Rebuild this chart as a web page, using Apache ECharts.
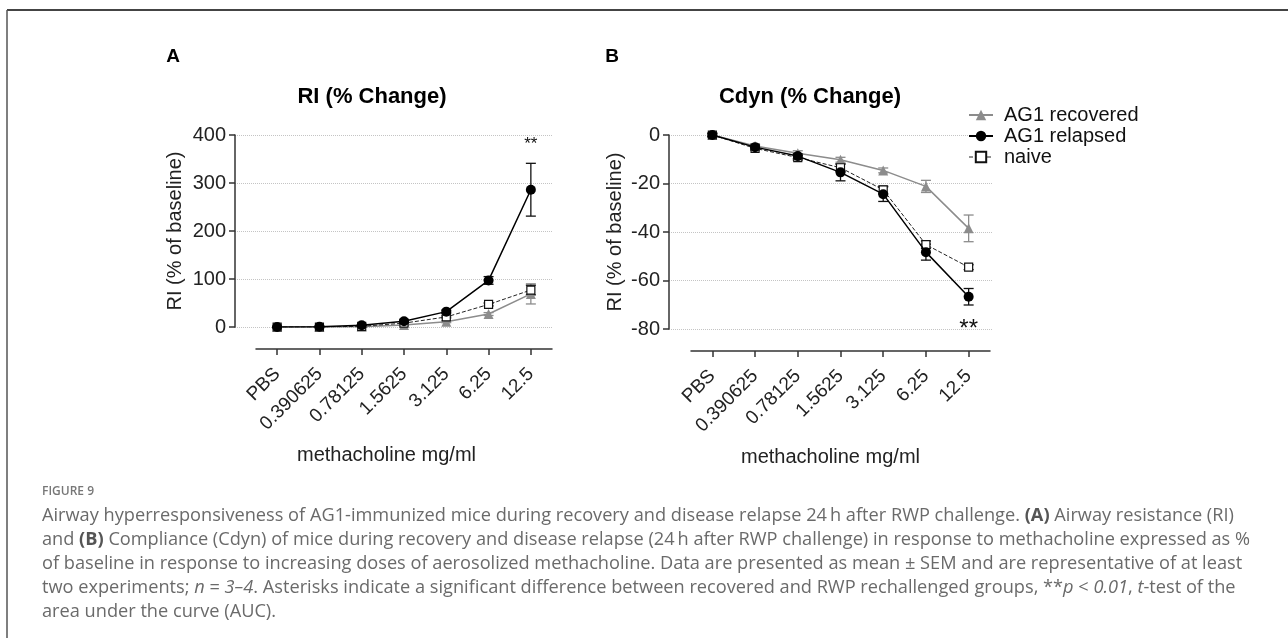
<!DOCTYPE html>
<html>
<head>
<meta charset="utf-8">
<script src="https://cdn.jsdelivr.net/npm/echarts@6/dist/echarts.min.js"></script>
<style>
html,body{margin:0;padding:0;background:#fff;}
#main{width:1288px;height:644px;}
</style>
</head>
<body>
<div id="main"></div>
<script>
// methacholine doses (x categories)
var doses = ['PBS', '0.390625', '0.78125', '1.5625', '3.125', '6.25', '12.5'];
var legendNames = ['AG1 recovered', 'AG1 relapsed', 'naive'];

// panel A: RI % change, mean and SEM
var riRecovered = [0, 0, 0.5, 4, 11, 27, 69];
var riRecoveredSem = [1, 1, 1, 1.5, 2, 3, 21];
var riRelapsed = [0, 0.5, 3.5, 12, 32, 97, 286];
var riRelapsedSem = [1, 1, 1, 2, 3, 8, 55];
var riNaive = [0, 0, 1.5, 8, 21, 47, 77];
var riNaiveSem = [1, 1, 1, 1.5, 2, 3, 10];

// panel B: Cdyn % change, mean and SEM
var cdRecovered = [0, -4.5, -7.5, -10.2, -14.6, -21.2, -38.5];
var cdRecoveredSem = [0.8, 0.8, 1, 1, 1, 2.5, 5.5];
var cdRelapsed = [0, -5, -8.7, -15.4, -24.4, -48.3, -66.7];
var cdRelapsedSem = [0.8, 0.8, 1, 3.5, 3, 3.3, 3.4];
var cdNaive = [0, -5.5, -9.3, -13.5, -22.6, -45.2, -54.5];
var cdNaiveSem = [0.5, 0.8, 1, 1.5, 1.5, 1.5, 1];

var FONT = '"Liberation Sans", Arial, sans-serif';
var CAPFONT = '"Open Sans", sans-serif';
var GRAY = '#8c8c8c';

function errData(mean, sem) {
    return mean.map(function (m, i) { return [i, m - sem[i], m + sem[i]]; });
}

function errRender(params, api) {
    var i = api.value(0);
    var lo = api.coord([i, api.value(1)]);
    var hi = api.coord([i, api.value(2)]);
    var w = 5;
    var st = { stroke: api.visual('color'), lineWidth: 1.3 };
    return {
        type: 'group',
        children: [
            { type: 'line', shape: { x1: lo[0], y1: lo[1], x2: hi[0], y2: hi[1] }, style: st },
            { type: 'line', shape: { x1: lo[0] - w, y1: lo[1], x2: lo[0] + w, y2: lo[1] }, style: st },
            { type: 'line', shape: { x1: hi[0] - w, y1: hi[1], x2: hi[0] + w, y2: hi[1] }, style: st }
        ]
    };
}

function lineSeries(name, data, xi, yi) {
    var s = { name: name, type: 'line', data: data, xAxisIndex: xi, yAxisIndex: yi };
    if (name === 'AG1 recovered') {
        s.symbol = 'triangle'; s.symbolSize = 10;
        s.itemStyle = { color: GRAY };
        s.lineStyle = { color: GRAY, width: 1.5 };
        s.z = 2;
    } else if (name === 'AG1 relapsed') {
        s.symbol = 'circle'; s.symbolSize = 10;
        s.itemStyle = { color: '#000' };
        s.lineStyle = { color: '#000', width: 1.5 };
        s.z = 4;
    } else {
        s.symbol = 'rect'; s.symbolSize = 8;
        s.itemStyle = { color: '#fff', borderColor: '#111', borderWidth: 1.2 };
        s.lineStyle = { color: '#222', width: 1, type: 'dashed' };
        s.z = 3;
    }
    return s;
}

function errSeries(name, data, xi, yi) {
    var c = name === 'AG1 recovered' ? GRAY : '#111';
    return {
        name: name, type: 'custom', xAxisIndex: xi, yAxisIndex: yi,
        itemStyle: { color: c }, renderItem: errRender, data: data, z: 1
    };
}

function starMark(y, size) {
    return {
        symbol: 'circle', symbolSize: 1,
        itemStyle: { color: 'rgba(0,0,0,0)' },
        label: { show: true, position: 'inside', formatter: '**', fontSize: size, color: '#111', fontFamily: FONT },
        data: [{ coord: ['12.5', y] }]
    };
}

function yAxisShown(grid, min, max, step, gap) {
    return {
        gridIndex: grid, type: 'value', min: min, max: max, interval: step,
        name: 'RI (% of baseline)', nameLocation: 'middle', nameGap: gap,
        nameTextStyle: { fontSize: 20, color: '#222', fontFamily: FONT },
        axisLine: { show: true, lineStyle: { color: '#333', width: 1.5 } },
        axisTick: { show: true, length: 6, lineStyle: { color: '#333', width: 1.5 } },
        axisLabel: { fontSize: 20, color: '#222', margin: 9, fontFamily: FONT },
        splitLine: { show: true, lineStyle: { type: 'dotted', color: '#c4c4c4', width: 1 } }
    };
}

function xAxisShown(grid, shift) {
    return {
        gridIndex: grid, type: 'category', data: doses, offset: 22,
        name: 'methacholine mg/ml', nameLocation: 'middle', nameGap: 96,
        nameTextStyle: { fontSize: 20, color: '#222', fontFamily: FONT, padding: [0, shift, 0, 0] },
        axisLine: { show: true, onZero: false, lineStyle: { color: '#333', width: 1.5 } },
        axisTick: { show: true, alignWithLabel: true, length: 6, lineStyle: { color: '#333', width: 1.5 } },
        axisLabel: { interval: 0, rotate: 45, fontSize: 19, color: '#222', margin: 22, fontFamily: FONT }
    };
}

var caption = [
    '{n|Airway hyperresponsiveness of AG1-immunized mice during recovery and disease relapse 24\u2009h after RWP challenge. }{b|(A)}{n| Airway resistance (RI)}',
    '{n|and }{b|(B)}{n| Compliance (Cdyn) of mice during recovery and disease relapse (24\u2009h after RWP challenge) in response to methacholine expressed as %}',
    '{n|of baseline in response to increasing doses of aerosolized methacholine. Data are presented as mean \u00b1 SEM and are representative of at least}',
    '{n|two experiments; }{i|n}{n| = }{i|3\u20134}{n|. Asterisks indicate a significant difference between recovered and RWP rechallenged groups, **}{i|p}{n| < }{i|0.01}{n|, }{i|t}{n|-test of the}',
    '{n|area under the curve (AUC).}'
];
var CAPSIZE = 18.2;
var capRich = {
    n: { fontSize: CAPSIZE, fontFamily: CAPFONT, fill: '#6a6a6a' },
    b: { fontSize: CAPSIZE, fontFamily: CAPFONT, fontWeight: 'bold', fill: '#555' },
    i: { fontSize: CAPSIZE, fontFamily: CAPFONT, fontStyle: 'italic', fill: '#6a6a6a' }
};

var graphics = [
    { type: 'line', shape: { x1: 7, y1: 10, x2: 1288, y2: 10 }, style: { stroke: '#444', lineWidth: 2 } },
    { type: 'line', shape: { x1: 7, y1: 10, x2: 7, y2: 638 }, style: { stroke: '#555', lineWidth: 1.5 } },
    { type: 'text', x: 173, y: 57, style: { text: 'A', font: 'bold 19px ' + FONT, fill: '#000', align: 'center', verticalAlign: 'middle' } },
    { type: 'text', x: 612, y: 57, style: { text: 'B', font: 'bold 19px ' + FONT, fill: '#000', align: 'center', verticalAlign: 'middle' } },
    { type: 'text', x: 372, y: 97, style: { text: 'RI (% Change)', font: 'bold 22px ' + FONT, fill: '#000', align: 'center', verticalAlign: 'middle' } },
    { type: 'text', x: 810, y: 97, style: { text: 'Cdyn (% Change)', font: 'bold 22px ' + FONT, fill: '#000', align: 'center', verticalAlign: 'middle' } },
    { type: 'text', x: 42, y: 492, style: { text: 'FIGURE 9', font: '600 12px ' + CAPFONT, fill: '#777', verticalAlign: 'middle' } }
];
caption.forEach(function (t, i) {
    graphics.push({ type: 'text', x: 42, y: 516 + i * 24, style: { text: t, rich: capRich, fill: '#6a6a6a', font: CAPSIZE + 'px ' + CAPFONT, verticalAlign: 'middle' } });
});

var myChart = echarts.init(document.getElementById('main'));
var option = {
    animation: false,
    backgroundColor: '#fff',
    legend: {
        orient: 'vertical', left: 963, top: 100,
        itemWidth: 24, itemHeight: 13, itemGap: 1,
        data: [
            { name: legendNames[0] },
            { name: legendNames[1] },
            { name: legendNames[2], lineStyle: { type: 'dashed', width: 1 } }
        ],
        textStyle: { fontSize: 20, color: '#111', fontFamily: FONT, padding: [0, 0, 0, 6] }
    },
    grid: [
        { left: 235, top: 135, width: 318, height: 192 },
        { left: 256, top: 135, width: 296, height: 192 },
        { left: 669, top: 135, width: 323, height: 194 },
        { left: 691, top: 135, width: 299, height: 194 }
    ],
    xAxis: [
        { gridIndex: 0, type: 'category', data: doses, show: false },
        xAxisShown(1, 35),
        { gridIndex: 2, type: 'category', data: doses, show: false },
        xAxisShown(3, 20)
    ],
    yAxis: [
        yAxisShown(0, 0, 400, 100, 50),
        { gridIndex: 1, type: 'value', min: 0, max: 400, show: false },
        yAxisShown(2, -80, 0, 20, 44),
        { gridIndex: 3, type: 'value', min: -80, max: 0, show: false }
    ],
    graphic: graphics,
    series: [
        lineSeries('AG1 recovered', riRecovered, 1, 1),
        lineSeries('AG1 relapsed', riRelapsed, 1, 1),
        lineSeries('naive', riNaive, 1, 1),
        lineSeries('AG1 recovered', cdRecovered, 3, 3),
        lineSeries('AG1 relapsed', cdRelapsed, 3, 3),
        lineSeries('naive', cdNaive, 3, 3),
        errSeries('AG1 recovered', errData(riRecovered, riRecoveredSem), 1, 1),
        errSeries('AG1 relapsed', errData(riRelapsed, riRelapsedSem), 1, 1),
        errSeries('naive', errData(riNaive, riNaiveSem), 1, 1),
        errSeries('AG1 recovered', errData(cdRecovered, cdRecoveredSem), 3, 3),
        errSeries('AG1 relapsed', errData(cdRelapsed, cdRelapsedSem), 3, 3),
        errSeries('naive', errData(cdNaive, cdNaiveSem), 3, 3)
    ]
};
option.series[1].markPoint = starMark(381, 17);
option.series[4].markPoint = starMark(-80, 24);
myChart.setOption(option);
</script>
</body>
</html>
